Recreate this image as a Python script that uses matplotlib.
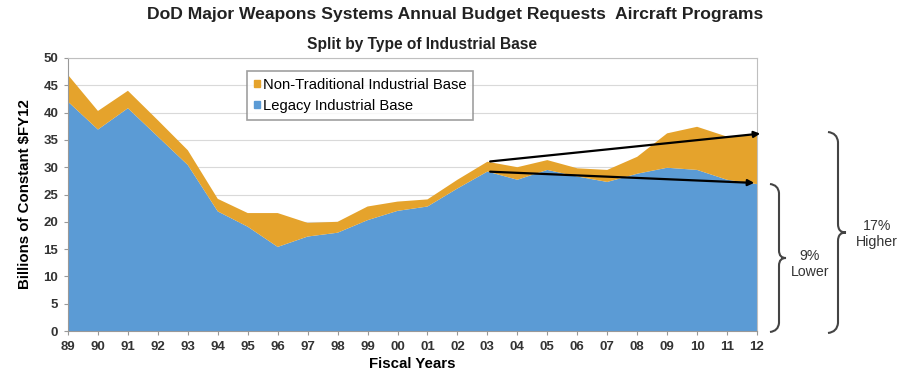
import matplotlib
matplotlib.use("Agg")
import matplotlib.pyplot as plt
from matplotlib.path import Path
from matplotlib.patches import PathPatch, Patch
import numpy as np

plt.rcParams["font.family"] = ["Liberation Sans", "DejaVu Sans"]

years = ["89", "90", "91", "92", "93", "94", "95", "96", "97", "98", "99", "00",
         "01", "02", "03", "04", "05", "06", "07", "08", "09", "10", "11", "12"]
legacy = [42.0, 36.9, 40.8, 35.6, 30.4, 21.9, 19.1, 15.4, 17.3, 18.0, 20.3, 22.0,
          22.8, 26.1, 29.2, 27.7, 29.5, 28.3, 27.3, 28.8, 29.9, 29.5, 27.7, 26.9]
total = [46.9, 40.3, 44.0, 38.6, 33.1, 24.2, 21.6, 21.6, 19.8, 20.0, 22.8, 23.7,
         24.1, 27.7, 31.0, 30.0, 31.3, 29.8, 29.5, 31.9, 36.2, 37.4, 35.6, 35.9]
nontrad = [t - l for t, l in zip(total, legacy)]

BLUE = "#5B9BD5"
ORANGE = "#E5A32C"

fig = plt.figure(figsize=(9.08, 3.8), dpi=100)
ax = fig.add_axes([68/908, 1-331/380, (757-68)/908, (331-58)/380])

x = np.arange(len(years))
ax.stackplot(x, legacy, nontrad, colors=[BLUE, ORANGE], linewidth=0)

ax.set_xlim(0, len(years)-1)
ax.set_ylim(0, 50)
ax.set_yticks(range(0, 51, 5))
ax.set_xticks(x)
ax.set_xticklabels(years)
ax.yaxis.grid(True, color="#d9d9d9", linewidth=0.8)
ax.set_axisbelow(True)
for s in ["top", "right"]:
    ax.spines[s].set_color("#bfbfbf")
ax.spines["left"].set_color("#999999")
ax.spines["bottom"].set_color("#999999")
ax.tick_params(axis="y", labelsize=9.5, length=3, color="#999999", pad=4)
ax.tick_params(axis="x", labelsize=9.5, length=3, color="#999999", pad=4)
for lbl in ax.get_xticklabels() + ax.get_yticklabels():
    lbl.set_fontweight("bold")
    lbl.set_color("#333333")

ax.set_ylabel("Billions of Constant $FY12", fontsize=10.8, fontweight="bold", labelpad=8)
ax.set_xlabel("Fiscal Years", fontsize=10.8, fontweight="bold", labelpad=3)

fig.text(455/908, 1-15/380, "DoD Major Weapons Systems Annual Budget Requests  Aircraft Programs",
         ha="center", va="center", fontsize=12.6, fontweight="bold", color="#222222")
fig.text(422/908, 1-44/380, "Split by Type of Industrial Base",
         ha="center", va="center", fontsize=11.2, fontweight="bold", color="#222222")

# legend
handles = [Patch(color=ORANGE, label="Non-Traditional Industrial Base"),
           Patch(color=BLUE, label="Legacy Industrial Base")]
leg = ax.legend(handles=handles, loc="upper left", bbox_to_anchor=((247-68)/689, 1-(71-58)/273),
                fontsize=10.6, frameon=True, fancybox=False, edgecolor="#888888",
                handlelength=0.4, handleheight=0.4, handletextpad=0.25, borderpad=0.45,
                labelspacing=0.5, borderaxespad=0)
leg.get_frame().set_linewidth(1.2)

# arrows
ax.annotate("", xy=(23.2, total[-1] + 0.3), xytext=(14, total[14]),
            arrowprops=dict(arrowstyle="-|>", color="black", lw=1.6, mutation_scale=9),
            annotation_clip=False)
ax.annotate("", xy=(23.0, legacy[-1] + 0.2), xytext=(14, legacy[14]),
            arrowprops=dict(arrowstyle="-|>", color="black", lw=1.6, mutation_scale=9),
            annotation_clip=False)

# braces (in pixel coordinates of the figure)
def px(xp, yp):
    return (xp/908, 1-yp/380)

def brace(x0, ytop, ybot, w, r):
    ym = (ytop + ybot) / 2
    pts = [px(x0 - 2, ytop - 1), px(x0 + w*0.9, ytop), px(x0 + w, ytop + r),
           px(x0 + w, ym - r),
           px(x0 + w, ym - 2), px(x0 + w*1.4, ym), px(x0 + 2*w, ym),
           px(x0 + w*1.4, ym), px(x0 + w, ym + 2), px(x0 + w, ym + r),
           px(x0 + w, ybot - r),
           px(x0 + w*0.9, ybot), px(x0 - 2, ybot + 1)]
    codes = [Path.MOVETO, Path.CURVE3, Path.CURVE3, Path.LINETO,
             Path.CURVE4, Path.CURVE4, Path.CURVE4,
             Path.CURVE4, Path.CURVE4, Path.CURVE4,
             Path.LINETO, Path.CURVE3, Path.CURVE3]
    p = PathPatch(Path(pts, codes), transform=fig.transFigure, fill=False,
                  edgecolor="#444444", lw=1.5)
    fig.patches.append(p)

brace(772, 185, 331, 7, 8)
brace(830, 133, 332, 8, 9)

fig.text(810/908, 1-264/380, "9%\nLower", ha="center", va="center",
         fontsize=10.2, color="#333333", linespacing=1.15)
fig.text(877/908, 1-234/380, "17%\nHigher", ha="center", va="center",
         fontsize=10.2, color="#333333", linespacing=1.15)

fig.savefig("out.png", dpi=100)
